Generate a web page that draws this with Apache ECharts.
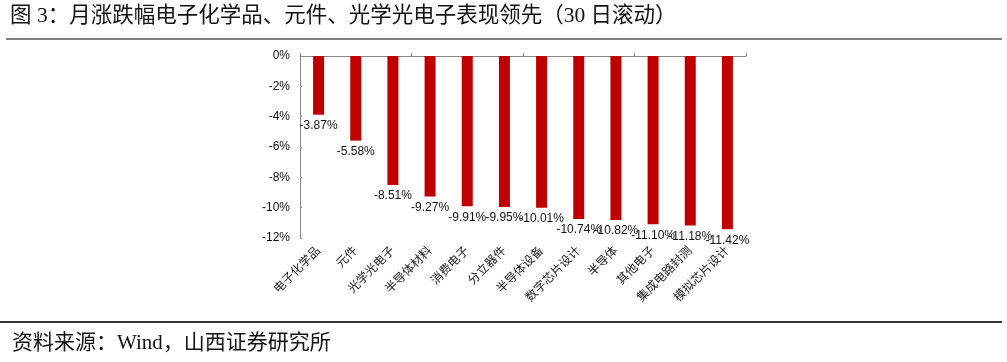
<!DOCTYPE html>
<html><head><meta charset="utf-8">
<script src="https://cdn.jsdelivr.net/npm/echarts@6/dist/echarts.min.js"></script>
<style>html,body{margin:0;padding:0;background:#fff}#c{width:1007px;height:362px}</style>
</head><body><div id="c"></div>
<script>
var categories = ['电子化学品','元件','光学光电子','半导体材料','消费电子','分立器件','半导体设备','数字芯片设计','半导体','其他电子','集成电路封测','模拟芯片设计'];
var values = [-3.87,-5.58,-8.51,-9.27,-9.91,-9.95,-10.01,-10.74,-10.82,-11.10,-11.18,-11.42];
var yTicks = {min:-12, max:0, interval:2};
var titleText = '图 3：月涨跌幅电子化学品、元件、光学光电子表现领先（30 日滚动）';
var sourceText = '资料来源：Wind，山西证券研究所';

var chart = echarts.init(document.getElementById('c'), null, {renderer:'canvas'});
var serif = '"Liberation Serif","Noto Sans CJK SC",serif';
var sans = '"Liberation Sans",Arial,"Noto Sans CJK SC",sans-serif';
chart.setOption({
  animation:false,
  grid:{left:300, right:261, top:56, bottom:124},
  xAxis:[{
    type:'category', data:categories, position:'top',
    axisLine:{onZero:false, lineStyle:{color:'#888', width:1}},
    axisTick:{show:true, length:3, lineStyle:{color:'#888'}},
    axisLabel:{show:false}, splitLine:{show:false}
  },{
    type:'category', data:categories, position:'bottom',
    axisLine:{show:false}, axisTick:{show:false},
    axisLabel:{rotate:45, margin:11, fontSize:12, color:'#222', fontFamily:sans, interval:0},
    splitLine:{show:false}
  }],
  yAxis:{
    type:'value', min:yTicks.min, max:yTicks.max, interval:yTicks.interval,
    axisLine:{show:true, lineStyle:{color:'#888'}},
    axisTick:{show:true, inside:true, length:2, lineStyle:{color:'#888'}},
    axisLabel:{formatter:'{value}%', fontSize:12, color:'#111', fontFamily:sans, margin:10},
    splitLine:{show:false}
  },
  series:[{
    type:'bar', data:values, xAxisIndex:0, barWidth:11,
    itemStyle:{color:'#C00000'},
    label:{show:true, position:'bottom', distance:5, fontSize:12, color:'#111', fontFamily:sans,
      formatter:function(p){return p.value.toFixed(2)+'%';}}
  }],
  graphic:[
    {type:'text', left:10, top:6, style:{text:titleText, font:'21.5px '+serif, fill:'#111'}},
    {type:'rect', shape:{x:6, y:38, width:996, height:2}, style:{fill:'#7f7f7f'}},
    {type:'rect', shape:{x:0, y:321, width:1002, height:2}, style:{fill:'#333'}},
    {type:'text', left:12, top:333, style:{text:sourceText, font:'21px '+serif, fill:'#111'}}
  ]
});
</script></body></html>
